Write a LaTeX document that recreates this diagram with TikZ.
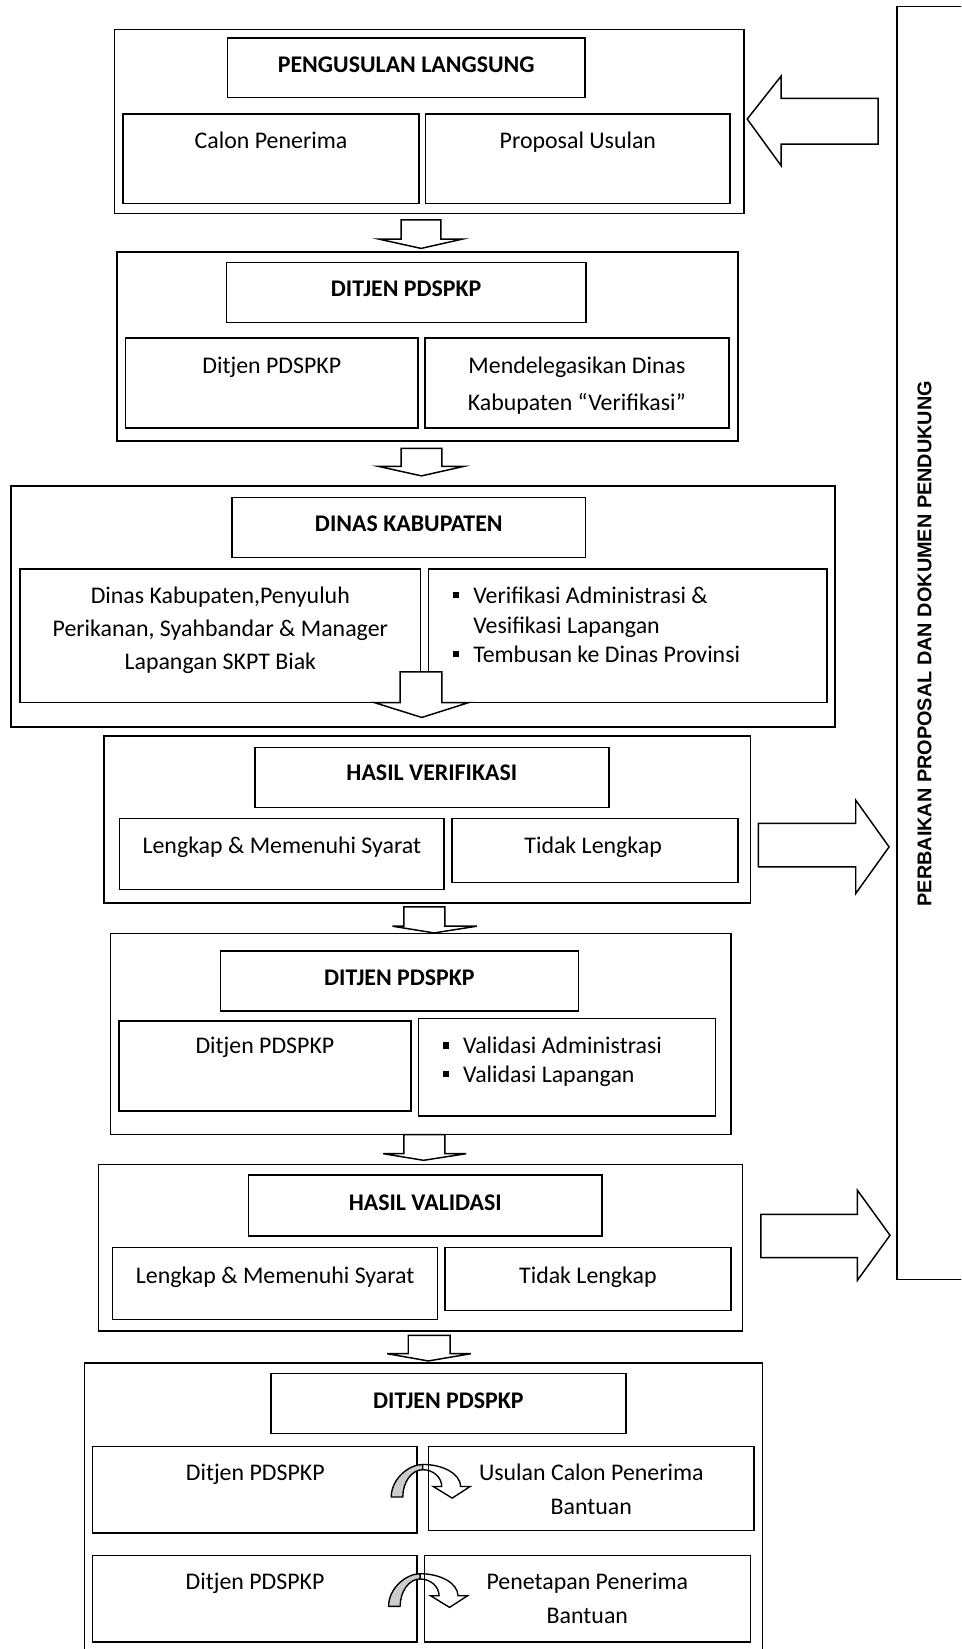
\documentclass[tikz,border=0pt]{standalone}
\usepackage{fontspec}
\setmainfont{Carlito}
\newfontfamily\arialfam{Liberation Sans}
\newcommand\fs{\fontsize{22.7pt}{27pt}\selectfont}
\newcommand\blt{\makebox[19.3pt][l]{\rule[5pt]{6pt}{6pt}}}
\newcommand\mkbox[5]{\node[box, minimum width={(#4)-(#2)}, minimum height={(#5)-(#3)}] (#1) at ({((#2)+(#4))/2},{((#3)+(#5))/2}) {};}
% shaftL shaftR top headL headR base tipx tipy
\newcommand\dnarr[8]{\draw[barrow] (#1,#3) -- (#1,#6) -- (#4,#6) -- (#7,#8) -- (#5,#6) -- (#2,#6) -- (#2,#3) -- cycle;}
\newcommand\curvarr[2]{%
\begin{scope}[shift={(#1,#2)}]
\draw[fill=gray!40, line width=1.3pt, line join=round] (-30,31) .. controls (-30,13.9) and (-13.4,0) .. (0,0) -- (0,5) .. controls (-10.5,5) and (-19,16.6) .. (-19,31) -- cycle;
\draw[line width=1.3pt, line join=miter] (0,0) .. controls (19.9,0) and (36,9.4) .. (36,21) -- (45,21) -- (28,32) -- (10,21) -- (18,21) .. controls (18,12.2) and (9.9,5) .. (0,5);
\end{scope}}
\tikzset{
  box/.style={draw, line width=1.5pt, inner sep=0pt, outer sep=0pt},
  txt/.style={font=\fs, anchor=base, inner sep=0pt},
  btxt/.style={font=\fs, anchor=base west, inner sep=0pt},
  ttl/.style={font=\fs\bfseries, anchor=base, inner sep=0pt},
  barrow/.style={draw, line width=1.4pt, fill=white, line join=miter},
}
\begin{document}
\begin{tikzpicture}[x=1pt,y=-1pt]
\useasboundingbox (0,0) rectangle (914,1568);
\clip (0,0) rectangle (914,1568);
\fill[white] (0,0) rectangle (914,1568);

% Block 1
\mkbox{outer1}{108.7}{27.9}{707.5}{202.9}
\mkbox{title1}{216.5}{36.4}{556.1}{92.6}
\mkbox{l1}{117}{108.4}{398.4}{193.4}
\mkbox{r1}{404.7}{108.4}{694.3}{193.4}
\node[ttl] (tt1) at (386.3,69.1) {PENGUSULAN LANGSUNG};
\node[txt] (tl1) at (257.7,141) {Calon Penerima};
\node[txt] (tr1) at (549.5,141) {Proposal Usulan};

% Block 2
\mkbox{outer2}{111.1}{239.4}{701.7}{419.1}
\mkbox{title2}{215.4}{249.5}{557}{306.6}
\mkbox{l2}{119.4}{321.2}{397.5}{406.8}
\mkbox{r2}{404.2}{321.2}{693}{406.8}
\node[ttl] (tt2) at (386.2,282) {DITJEN PDSPKP};
\node[txt] (tl2) at (258.5,355) {Ditjen PDSPKP};
\node[txt] (tr2a) at (548.6,355) {Mendelegasikan Dinas};
\node[txt] (tr2b) at (548.6,390) {Kabupaten “Verifikasi”};

% Block 3
\mkbox{outer3}{10.3}{461.9}{793.9}{691.2}
\mkbox{title3}{220.6}{473}{556.8}{530.1}
\mkbox{l3}{19.1}{541.2}{400}{668}
\mkbox{r3}{407.3}{541.2}{786.2}{668}
\node[ttl] (tt3) at (388.7,505.7) {DINAS KABUPATEN};
\node[txt] (tl3a) at (209.5,573.7) {Dinas Kabupaten,Penyuluh};
\node[txt] (tl3b) at (209.5,605.5) {Perikanan, Syahbandar \& Manager};
\node[txt] (tl3c) at (209.5,636.6) {Lapangan SKPT Biak};
\node[btxt] (tr3a) at (430.5,573.7) {\blt Verifikasi Administrasi \&};
\node[btxt] (tr3b) at (449.8,602.4) {Vesifikasi Lapangan};
\node[btxt] (tr3c) at (430.5,630) {\blt Tembusan ke Dinas Provinsi};

% Block 4
\mkbox{outer4}{98.8}{700}{713.6}{858.5}
\mkbox{title4}{242.3}{710.8}{579}{767.8}
\mkbox{l4}{113.6}{778.3}{422.3}{845.9}
\mkbox{r4}{429.7}{778.3}{702}{839.2}
\node[ttl] (tt4) at (410.6,742) {HASIL VERIFIKASI};
\node[txt] (tl4) at (268,811.6) {Lengkap \& Memenuhi Syarat};
\node[txt] (tr4) at (564,811.6) {Tidak Lengkap};

% Block 5
\mkbox{outer5}{105.1}{887.7}{695.2}{1078.9}
\mkbox{title5}{209.6}{904.2}{550}{961.3}
\mkbox{l5}{113.1}{970.8}{390.6}{1056.4}
\mkbox{r5}{398}{968.5}{680.3}{1061.2}
\node[ttl] (tt5) at (379.8,937) {DITJEN PDSPKP};
\node[txt] (tl5) at (251.9,1002) {Ditjen PDSPKP};
\node[btxt] (tr5a) at (420.8,1002) {\blt Validasi Administrasi};
\node[btxt] (tr5b) at (420.8,1029) {\blt Validasi Lapangan};

% Block 6
\mkbox{outer6}{93.7}{1107.1}{706}{1265.6}
\mkbox{title6}{236.3}{1117.5}{572.6}{1175.3}
\mkbox{l6}{107.1}{1186.3}{416.1}{1254.8}
\mkbox{r6}{423.1}{1186.3}{695.3}{1246}
\node[ttl] (tt6) at (404.4,1151) {HASIL VALIDASI};
\node[txt] (tl6) at (261.6,1220) {Lengkap \& Memenuhi Syarat};
\node[txt] (tr6) at (559,1220) {Tidak Lengkap};

% Block 7
\mkbox{outer7}{80.4}{1296.1}{724.9}{1590}
\mkbox{title7}{257.9}{1306.2}{595}{1363.2}
\mkbox{l7a}{88}{1375.3}{396.6}{1457.7}
\mkbox{r7a}{407.3}{1375.3}{717.2}{1455.2}
\mkbox{l7b}{88}{1479}{396.6}{1561.4}
\mkbox{r7b}{403.8}{1479}{713.8}{1561.4}
\node[ttl] (tt7) at (426.4,1339.5) {DITJEN PDSPKP};
\node[txt] (tl7a) at (242.7,1407.6) {Ditjen PDSPKP};
\node[txt] (tr7a1) at (562.3,1407.6) {Usulan Calon Penerima};
\node[txt] (tr7a2) at (562.3,1440) {Bantuan};
\node[txt] (tl7b) at (242.5,1511.6) {Ditjen PDSPKP};
\node[txt] (tr7b1) at (558.5,1511.6) {Penetapan Penerima};
\node[txt] (tr7b2) at (558.5,1544) {Bantuan};
\curvarr{402}{1392.5}
\curvarr{399.5}{1496.4}

% Right long box
\mkbox{perbox}{853}{6.3}{940}{1216.5}
\node[font={\arialfam\bfseries\fontsize{18.9pt}{22pt}\selectfont}, rotate=90, inner sep=0pt] (perb) at (879,612) {PERBAIKAN PROPOSAL DAN DOKUMEN PENDUKUNG};

% Down arrows
\dnarr{381.4}{419.3}{209}{360}{440}{227.3}{400.4}{236.2}
\dnarr{381.4}{420.2}{426.4}{360}{441}{443.5}{400.8}{452.5}
\dnarr{380.4}{420.1}{638.8}{355.7}{445.9}{668}{401.1}{682.2}
\dnarr{384}{423}{862.3}{373.2}{453.4}{880.7}{412.8}{887.1}
\dnarr{384}{423}{1078.9}{364.3}{443.3}{1097}{402.8}{1103.3}
\dnarr{388.2}{428}{1269.7}{368.2}{447.6}{1287.2}{407.3}{1294.1}

% Side block arrows
\draw[barrow] (835,93.5) -- (742.8,93.5) -- (742.8,72.3) -- (710.5,113.2) -- (742.8,157.6) -- (742.8,137) -- (835,137) -- cycle;
\draw[barrow] (721.2,783) -- (813.7,783) -- (813.7,760.9) -- (845.4,805.3) -- (813.7,849.6) -- (813.7,824.3) -- (721.2,824.3) -- cycle;
\draw[barrow] (723.5,1154.7) -- (815.3,1154.7) -- (815.3,1131.8) -- (846.3,1174.6) -- (815.3,1217.4) -- (815.3,1195.9) -- (723.5,1195.9) -- cycle;
\end{tikzpicture}
\end{document}
